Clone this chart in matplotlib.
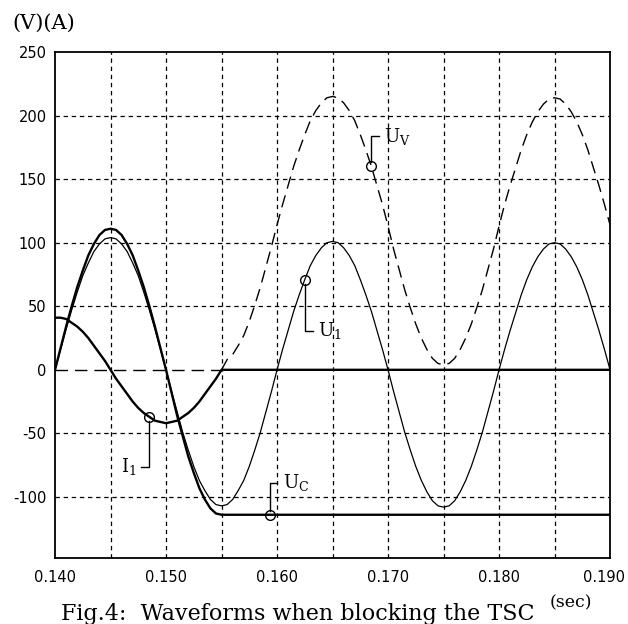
import numpy as np
import matplotlib
matplotlib.use("Agg")
import matplotlib.pyplot as plt
import matplotlib.transforms as mtransforms

plt.rcParams['mathtext.fontset'] = 'dejavuserif'
plt.rcParams['axes.unicode_minus'] = False

# sampling instants (every 0.5 ms from 0.140 s to 0.190 s)
t = np.round(0.140 + 0.0005 * np.arange(101), 4)

# U1 : supply voltage (thin solid)
u1 = [0, 16, 32, 47, 61, 74, 84, 93, 99, 103, 104, 103, 99, 93, 84, 74, 61, 47, 32, 16,
      0, -17, -33, -49, -63, -76, -87, -95, -102, -106, -107, -106, -102, -95, -87, -76, -63, -49, -33, -17,
      0, 16, 31, 46, 59, 71, 82, 90, 96, 100, 101, 100, 96, 90, 82, 71, 59, 46, 31, 16,
      0, -17, -33, -49, -63, -76, -87, -96, -103, -107, -108, -107, -103, -96, -87, -76, -63, -49, -33, -17,
      0, 16, 31, 45, 59, 71, 81, 89, 95, 99, 100, 99, 95, 89, 81, 71, 59, 45, 31, 16,
      0]

# UC : capacitor voltage, 0.140 .. 0.155 then held
uc = [0, 17, 34, 50, 65, 78, 90, 99, 106, 110, 111, 110, 106, 99, 90, 78, 65, 50, 34, 17,
      0, -18, -36, -52, -68, -81, -93, -102, -109, -113, -114]
uc_hold = -114

# I1 : current, 0.140 .. 0.155 then zero
i1 = [41, 41, 40, 37, 34, 30, 25, 19, 13, 7, 0, -7, -13, -19, -25, -30, -34, -37, -40, -41,
      -42, -41, -40, -37, -34, -30, -25, -19, -13, -7, 0]
i1_hold = 0

# UV : valve voltage, zero while conducting, then from 0.155 on
uv_before = 0
uv = [0, 8, 12, 19, 27, 38, 51, 65, 81, 97,
      114, 130, 145, 160, 173, 185, 196, 204, 210, 214, 215, 214, 210, 204, 196, 185, 173, 160, 145, 130,
      113, 95, 79, 63, 49, 36, 25, 16, 9, 5, 4, 5, 9, 16, 25, 36, 49, 63, 79, 95,
      113, 130, 145, 159, 173, 185, 195, 203, 209, 213, 214, 213, 209, 203, 195, 185, 173, 159, 145, 130,
      114]

xticks = [0.140, 0.150, 0.160, 0.170, 0.180, 0.190]
xlabels = ['0.140', '0.150', '0.160', '0.170', '0.180', '0.190']
yticks = [-100, -50, 0, 50, 100, 150, 200, 250]

nb = len(uc) - 1  # index of blocking instant

fig = plt.figure(figsize=(6.28, 6.24), dpi=100)
ax = fig.add_axes([0.0876, 0.1058, 0.8838, 0.8109])
ax.set_xlim(0.140, 0.190)
ax.set_ylim(-148, 250)

# dashed grid
for gx in np.arange(0.145, 0.1899, 0.005):
    ax.axvline(gx, color='black', lw=0.9, ls=(0, (3.5, 3)), zorder=1)
for gy in [-100, -50, 50, 100, 150, 200]:
    ax.axhline(gy, color='black', lw=0.9, ls=(0, (3.5, 3)), zorder=1)

ax.plot(t, u1, color='black', lw=0.9, zorder=3)
ax.plot(list(t[:nb + 1]) + [0.190], uc + [uc_hold], color='black', lw=1.7, zorder=3)
ax.plot(list(t[:nb + 1]) + [0.190], i1 + [i1_hold], color='black', lw=1.7, zorder=3)
ax.plot([0.140, t[nb]], [uv_before, uv_before], color='black', lw=1.0, ls=(0, (9, 5)), zorder=2)
ax.plot(t[nb:], uv, color='black', lw=1.0, ls=(0, (9, 5)), zorder=3)

ax.set_xticks(xticks)
ax.set_xticklabels(xlabels)
ax.set_yticks(yticks)
ax.tick_params(length=0, labelsize=10.5, pad=6)
ax.tick_params(axis='x', pad=9)
for s in ax.spines.values():
    s.set_linewidth(1.3)

# last x label sits a little left so it stays inside the picture
lab = ax.get_xticklabels()[-1]
lab.set_transform(lab.get_transform() + mtransforms.ScaledTranslation(-4 / 72, 0, fig.dpi_scale_trans))


def tag(tx, vy, path, label, txt_dx, ha):
    # circle on the curve, leader drawn as pixel offsets, then the label
    ax.plot([tx], [vy], 'o', ms=7, mfc='none', mec='black', mew=1.0, zorder=5)
    x0, y0 = ax.transData.transform((tx, vy))
    pts = [ax.transData.inverted().transform((x0 + dx, y0 + dy)) for dx, dy in path]
    ax.plot([p[0] for p in pts], [p[1] for p in pts], color='black', lw=1.0, zorder=4, clip_on=False)
    ex, ey = path[-1]
    lx, ly = ax.transData.inverted().transform((x0 + ex + txt_dx, y0 + ey))
    ax.text(lx, ly, label, ha=ha, va='center', fontsize=13, zorder=6)


tag(t[nb + 27], uv[27], [(0, 4), (0, 30), (8, 30)], r'$\mathrm{U}_{\mathrm{V}}$', 5, 'left')
tag(t[45], u1[45], [(0, -4), (0, -51), (8, -51)], r'$\mathrm{U}_{1}$', 5, 'left')
tag(0.1594, uc_hold, [(0, 4), (0, 32), (7, 32)], r'$\mathrm{U}_{\mathrm{C}}$', 6, 'left')
tag(t[17], i1[17], [(0, -4), (0, -50), (-8, -50)], r'$\mathrm{I}_{1}$', -5, 'right')

fig.text(0.020, 0.962, '(V)(A)', family='DejaVu Serif', fontsize=15, ha='left', va='center')
fig.text(0.909, 0.034, '(sec)', family='DejaVu Serif', fontsize=12.5, ha='center', va='center')
fig.text(0.474, 0.006, 'Fig.4:  Waveforms when blocking the TSC', family='DejaVu Serif',
         fontsize=16, ha='center', va='baseline')

fig.savefig('out.png', dpi=100)
